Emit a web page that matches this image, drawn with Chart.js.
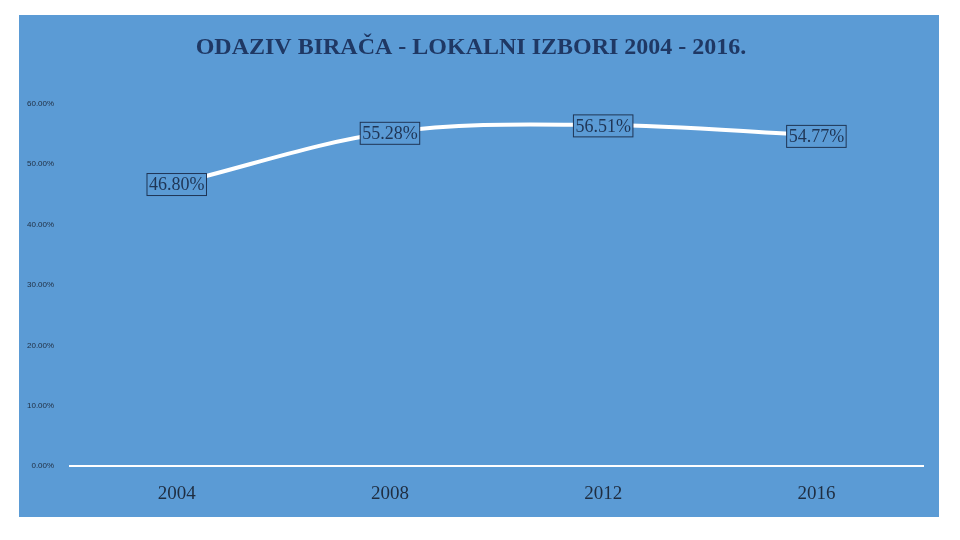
<!DOCTYPE html>
<html><head><meta charset="utf-8">
<script src="https://cdn.jsdelivr.net/npm/chart.js@4"></script>
<style>
html,body{margin:0;padding:0;background:#fff;}
#wrap{position:absolute;left:19px;top:15px;width:920px;height:502px;background:#5b9bd5;}
</style></head><body>
<div id="wrap"><canvas id="c" width="920" height="502"></canvas></div>
<script>
const categories = ['2004','2008','2012','2016'];
const turnout = [46.80, 55.28, 56.51, 54.77];
const yTicks = [0,10,20,30,40,50,60];

const labelPlugin = {
  id:'boxLabels',
  afterDatasetsDraw(chart){
    const ctx = chart.ctx;
    const meta = chart.getDatasetMeta(0);
    ctx.save();
    ctx.font = '18px "Liberation Serif", "DejaVu Serif", serif';
    ctx.textAlign='center'; ctx.textBaseline='middle';
    meta.data.forEach((p,i)=>{
      const t = turnout[i].toFixed(2)+'%';
      const w = ctx.measureText(t).width+4, h=22;
      ctx.fillStyle='#5b9bd5';
      ctx.fillRect(p.x-w/2,p.y-h/2+1,w,h);
      ctx.strokeStyle='#1f3555'; ctx.lineWidth=1;
      ctx.strokeRect(p.x-w/2,p.y-h/2+1,w,h);
      ctx.fillStyle='#1f3555';
      ctx.fillText(t,p.x,p.y+2);
    });
    ctx.restore();
  }
};

new Chart(document.getElementById('c'),{
  type:'line',
  data:{labels:categories,datasets:[{data:turnout,borderColor:'#ffffff',borderWidth:4,tension:0.35,pointRadius:0,fill:false}]},
  options:{
    responsive:false,animation:false,
    layout:{padding:{left:0,right:16,top:0,bottom:4}},
    plugins:{legend:{display:false},tooltip:{enabled:false},
      title:{display:true,text:'ODAZIV BIRAČA - LOKALNI IZBORI 2004 - 2016.',color:'#1f3864',
        font:{family:'"Liberation Serif", "DejaVu Serif", serif',size:24},padding:{top:18,bottom:42}}},
    scales:{
      x:{offset:true,grid:{display:false},border:{color:'#ffffff',width:2},
        ticks:{color:'#1f2d40',font:{family:'"Liberation Serif", serif',size:19},padding:8}},
      y:{min:0,max:60,afterBuildTicks(s){s.ticks=yTicks.map(v=>({value:v}));},
        grid:{display:false},border:{display:false},
        ticks:{color:'#1f2d40',font:{family:'"Liberation Sans", sans-serif',size:8},padding:8,
          callback:v=>v.toFixed(2)+'%'}}
    }
  },
  plugins:[labelPlugin]
});
</script></body></html>
